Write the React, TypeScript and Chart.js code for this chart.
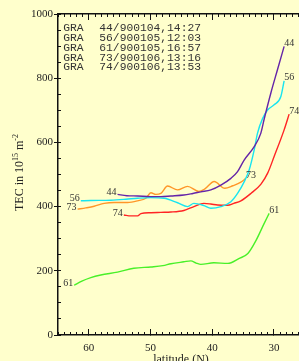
import { useEffect, useRef } from 'react';
import { Chart, registerables } from 'chart.js';

Chart.register(...registerables);

// ---- data (latitude in degrees N, TEC in 10^15 m^-2) ----
const LAT_44 = [55.35, 53.84, 52.1, 49.95, 48.33, 46.7, 44.6, 43.14, 41.85, 40.23, 38.6, 36.98, 35.9, 34.83, 33.2, 32.12, 31.59, 30.5, 29.42, 28.35];
const TEC_44 = [438, 434, 433, 431, 431, 433, 436, 441, 446, 452, 467, 488, 509, 545, 587, 629, 672, 754, 827, 899];

const LAT_56 = [61.3, 59.68, 56.43, 54.0, 52.1, 49.95, 47.8, 45.62, 44.0, 42.98, 41.31, 40.23, 38.6, 36.98, 35.9, 34.83, 34.02, 33.2, 32.66, 31.85, 31.04, 29.97, 28.88, 28.35];
const TEC_56 = [418, 419, 420, 423, 426, 428, 426, 412, 400, 410, 403, 395, 400, 415, 441, 477, 514, 577, 629, 674, 701, 717, 743, 792];

const LAT_61 = [62.38, 61.13, 59.68, 58.06, 55.35, 52.71, 49.95, 48.0, 46.7, 44.6, 43.47, 42.6, 41.85, 39.74, 37.47, 35.7, 34.23, 32.9, 31.6, 30.78];
const TEC_61 = [155, 168, 179, 187, 196, 208, 212, 216, 222, 228, 231, 224, 220, 225, 223, 238, 254, 295, 347, 379];

const LAT_73 = [61.83, 60.49, 59.14, 57.52, 55.9, 53.73, 52.1, 50.76, 49.95, 49.14, 48.33, 47.24, 45.62, 44.0, 42.17, 41.2, 39.69, 37.96, 36.66, 35.36, 34.55];
const TEC_73 = [392, 396, 401, 410, 413, 413, 418, 426, 443, 438, 441, 464, 452, 463, 447, 455, 478, 457, 465, 476, 488];

const LAT_74 = [54.33, 53.19, 52.1, 51.57, 49.95, 48.33, 46.7, 44.6, 42.98, 41.36, 40.23, 39.14, 37.52, 36.5, 35.36, 33.74, 32.1, 31.0, 29.97, 28.35, 27.54];
const TEC_74 = [374, 371, 371, 378, 381, 382, 383, 388, 400, 410, 408, 405, 404, 410, 418, 441, 470, 505, 556, 639, 688];

const SERIES_IDS = ['44', '56', '61', '73', '74'];
const SERIES_COLORS = ['#6424a8', '#18e4f0', '#48f028', '#ff9628', '#ff2424'];

const LEGEND_STATION = 'GRA';
const LEGEND_TIMES = ['44/900104,14:27', '56/900105,12:03', '61/900105,16:57', '73/900106,13:16', '74/900106,13:53'];

const X_TICKS = [60, 50, 40, 30];
const Y_TICKS = [0, 200, 400, 600, 800, 1000];
const X_MIN = 25.94;
const X_MAX = 65;
const Y_MIN = 0;
const Y_MAX = 1000;
const X_MINOR_STEP = 1;
const Y_MINOR_STEP = 50;

const X_TITLE = 'latitude (N)';

const seriesLats = [LAT_44, LAT_56, LAT_61, LAT_73, LAT_74];
const seriesTecs = [TEC_44, TEC_56, TEC_61, TEC_73, TEC_74];

const SERIF = "'Liberation Serif', 'Times New Roman', serif";
const MONO = "'Liberation Mono', 'Courier New', monospace";
const AXIS_COLOR = '#111111';

const range = (from: number, to: number, step: number) => {
  const out: number[] = [];
  for (let v = Math.ceil(from / step) * step; v <= to + 1e-9; v += step) out.push(v);
  return out;
};

const textPlugin = {
  id: 'texts',
  afterDraw(chart: any) {
    const ctx: CanvasRenderingContext2D = chart.ctx;
    const a = chart.chartArea;
    const x = chart.scales.x;
    const y = chart.scales.y;
    ctx.save();
    // series end labels
    ctx.fillStyle = '#333';
    ctx.font = `10px ${SERIF}`;
    ctx.textBaseline = 'middle';
    chart.data.datasets.forEach((ds: any, i: number) => {
      const pts = ds.data;
      const first = pts[0];
      const last = pts[pts.length - 1];
      const fx = x.getPixelForValue(first.x);
      const fy = y.getPixelForValue(first.y);
      const lx = x.getPixelForValue(last.x);
      const ly = y.getPixelForValue(last.y);
      ctx.textAlign = 'right';
      ctx.fillText(SERIES_IDS[i], fx - 1, fy - 2);
      ctx.textAlign = 'left';
      ctx.fillText(SERIES_IDS[i], lx, ly - 3);
    });

    // legend text block
    ctx.font = `11.3px ${MONO}`;
    ctx.fillStyle = '#333';
    ctx.textAlign = 'left';
    ctx.textBaseline = 'middle';
    LEGEND_TIMES.forEach((t, i) => {
      const ty = a.top + 14.3 + i * 9.75;
      ctx.fillText(LEGEND_STATION, a.left + 5.3, ty);
      ctx.fillText(t, a.left + 41.3, ty);
    });

    // x title
    ctx.font = `12px ${SERIF}`;
    ctx.fillStyle = '#222';
    ctx.textAlign = 'center';
    ctx.textBaseline = 'alphabetic';
    ctx.fillText(X_TITLE, (a.left + 304) / 2, 363);

    // y title with superscripts
    const parts: [string, boolean][] = [['TEC in 10', false], ['15', true], [' m', false], ['-2', true]];
    const normal = `12px ${SERIF}`;
    const sup = `8px ${SERIF}`;
    let total = 0;
    parts.forEach(([s, isSup]) => {
      ctx.font = isSup ? sup : normal;
      total += ctx.measureText(s).width;
    });
    ctx.translate(20, (a.top + a.bottom) / 2 - 2);
    ctx.rotate(-Math.PI / 2);
    ctx.textAlign = 'left';
    ctx.textBaseline = 'middle';
    let cx = -total / 2;
    parts.forEach(([s, isSup]) => {
      ctx.font = isSup ? sup : normal;
      ctx.fillText(s, cx, isSup ? -4 : 0);
      cx += ctx.measureText(s).width;
    });
    ctx.restore();
  },
};

const tickGrid = (len: number) => ({
  display: true,
  drawOnChartArea: false,
  drawTicks: true,
  tickLength: len,
  color: AXIS_COLOR,
  tickColor: AXIS_COLOR,
  tickWidth: 1,
  lineWidth: 1,
});

const axisBorder = { display: true, color: AXIS_COLOR, width: 1.5 };

export default function App() {
  const ref = useRef<HTMLCanvasElement | null>(null);
  useEffect(() => {
    if (!ref.current) return;
    const datasets = SERIES_IDS.map((id, i) => ({
      label: id,
      data: seriesLats[i].map((lat, j) => ({ x: lat, y: seriesTecs[i][j] })),
      borderColor: SERIES_COLORS[i],
      backgroundColor: SERIES_COLORS[i],
      borderWidth: 1.4,
      pointRadius: 0,
      fill: false,
      cubicInterpolationMode: 'monotone' as const,
      xAxisID: 'x',
      yAxisID: 'y',
    }));
    const xMinorTicks = range(X_MIN, X_MAX, X_MINOR_STEP);
    const yMinorTicks = range(Y_MIN, Y_MAX, Y_MINOR_STEP);
    const hiddenLabels = { display: false };
    const chart = new Chart(ref.current, {
      type: 'line',
      data: { datasets },
      plugins: [textPlugin],
      options: {
        animation: false,
        responsive: false,
        layout: { padding: { top: 14, right: 0, left: 0, bottom: 0 } },
        plugins: { legend: { display: false }, tooltip: { enabled: false } },
        scales: {
          x: {
            type: 'linear',
            position: 'bottom',
            weight: 1,
            reverse: true,
            min: X_MIN,
            max: X_MAX,
            grid: tickGrid(-6),
            border: axisBorder,
            afterBuildTicks: (s: any) => {
              s.ticks = X_TICKS.map((v) => ({ value: v }));
            },
            afterFit: (s: any) => {
              s.height = 26;
            },
            ticks: {
              padding: 13,
              maxRotation: 0,
              minRotation: 0,
              color: '#222',
              font: { family: SERIF, size: 11 },
              callback: (v: any) => String(v),
            },
          },
          xMinor: {
            type: 'linear',
            position: 'bottom',
            weight: 0,
            reverse: true,
            min: X_MIN,
            max: X_MAX,
            grid: tickGrid(-3),
            border: { display: false },
            afterBuildTicks: (s: any) => {
              s.ticks = xMinorTicks.map((v) => ({ value: v }));
            },
            afterFit: (s: any) => {
              s.height = 0;
            },
            ticks: hiddenLabels,
          },
          xTop: {
            type: 'linear',
            position: 'top',
            weight: 0,
            reverse: true,
            min: X_MIN,
            max: X_MAX,
            grid: tickGrid(-3),
            border: axisBorder,
            afterBuildTicks: (s: any) => {
              s.ticks = xMinorTicks.map((v) => ({ value: v }));
            },
            afterFit: (s: any) => {
              s.height = 0;
            },
            ticks: hiddenLabels,
          },
          xTopMajor: {
            type: 'linear',
            position: 'top',
            weight: 1,
            reverse: true,
            min: X_MIN,
            max: X_MAX,
            grid: tickGrid(-6),
            border: { display: false },
            afterBuildTicks: (s: any) => {
              s.ticks = X_TICKS.map((v) => ({ value: v }));
            },
            afterFit: (s: any) => {
              s.height = 0;
            },
            ticks: hiddenLabels,
          },
          y: {
            type: 'linear',
            position: 'left',
            weight: 1,
            min: Y_MIN,
            max: Y_MAX,
            grid: tickGrid(4),
            border: axisBorder,
            afterBuildTicks: (s: any) => {
              s.ticks = Y_TICKS.map((v) => ({ value: v }));
            },
            afterFit: (s: any) => {
              s.width = 58;
            },
            ticks: {
              padding: 1,
              color: '#222',
              font: { family: SERIF, size: 11 },
              callback: (v: any) => String(v),
            },
          },
          yMinor: {
            type: 'linear',
            position: 'left',
            weight: 0,
            min: Y_MIN,
            max: Y_MAX,
            grid: tickGrid(-3),
            border: { display: false },
            afterBuildTicks: (s: any) => {
              s.ticks = yMinorTicks.map((v) => ({ value: v }));
            },
            afterFit: (s: any) => {
              s.width = 0;
            },
            ticks: hiddenLabels,
          },
        },
      },
    });
    return () => chart.destroy();
  }, []);
  return (
    <div style={{ position: 'fixed', left: 0, top: 0, width: 299, height: 361, background: '#ffffcc', overflow: 'hidden' }}>
      <canvas ref={ref} width={299} height={361} style={{ display: 'block' }} />
    </div>
  );
}
